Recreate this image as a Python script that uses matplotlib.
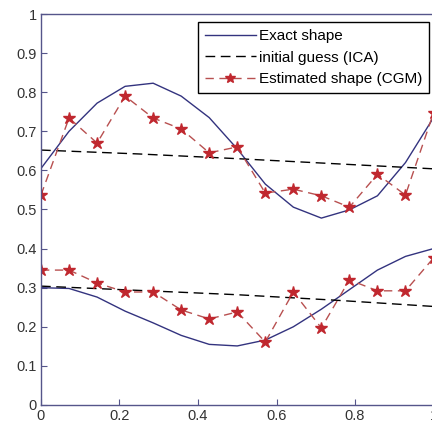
import matplotlib.pyplot as plt
import numpy as np

# sample positions (15 nodes on [0, 1])
x_nodes = np.arange(15) / 14

# exact shape, upper and lower boundaries
exact_upper = [0.605, 0.700, 0.772, 0.815, 0.823, 0.790, 0.735, 0.655,
               0.565, 0.506, 0.478, 0.499, 0.535, 0.620, 0.735]
exact_lower = [0.300, 0.298, 0.276, 0.240, 0.210, 0.178, 0.155, 0.151,
               0.166, 0.200, 0.245, 0.295, 0.345, 0.380, 0.400]

# initial guess (ICA)
guess_x = [0.0, 0.25, 0.5, 0.75, 1.0]
guess_upper = [0.652, 0.642, 0.630, 0.617, 0.604]
guess_lower = [0.304, 0.293, 0.282, 0.268, 0.252]

# estimated shape (CGM)
est_upper = [0.537, 0.734, 0.670, 0.790, 0.734, 0.706, 0.645, 0.660,
             0.542, 0.552, 0.535, 0.506, 0.590, 0.537, 0.747]
est_lower = [0.345, 0.345, 0.312, 0.289, 0.289, 0.243, 0.220, 0.238,
             0.161, 0.289, 0.197, 0.320, 0.292, 0.292, 0.376]

plt.rcParams['font.family'] = ['Liberation Sans', 'DejaVu Sans']

fig = plt.figure(figsize=(4.32, 4.23), dpi=100)
ax = fig.add_axes([0.0949, 0.0426, 0.9086, 0.9243])

blue = '#33337f'
red = '#c0282f'
red_line = '#b85050'

ax.plot(x_nodes, exact_upper, color=blue, lw=1.0, label='Exact shape')
ax.plot(guess_x, guess_upper, color='black', lw=1.0, dashes=(7, 4),
        label='initial guess (ICA)')
ax.plot(x_nodes, est_upper, color=red_line, lw=1.0, dashes=(6, 4),
        marker='*', markersize=9, markerfacecolor=red, markeredgecolor=red,
        label='Estimated shape (CGM)')

ax.plot(x_nodes, exact_lower, color=blue, lw=1.0)
ax.plot(guess_x, guess_lower, color='black', lw=1.0, dashes=(7, 4))
ax.plot(x_nodes, est_lower, color=red_line, lw=1.0, dashes=(6, 4),
        marker='*', markersize=9, markerfacecolor=red, markeredgecolor=red)

ax.set_xlim(0, 1)
ax.set_ylim(0, 1)
ax.set_xticks([0, 0.2, 0.4, 0.6, 0.8, 1])
ax.set_xticklabels(['0', '0.2', '0.4', '0.6', '0.8', '1'])
ax.set_yticks(np.arange(11) / 10)
ax.set_yticklabels(['0', '0.1', '0.2', '0.3', '0.4', '0.5', '0.6', '0.7',
                    '0.8', '0.9', '1'])
ax.tick_params(direction='in', length=4, color='#55558a', labelsize=10.5,
               labelcolor='#333333', pad=3)
for s in ax.spines.values():
    s.set_color('#55558a')
    s.set_linewidth(1.0)

leg = ax.legend(loc='upper right', bbox_to_anchor=(429 / 432, 1 - 22 / 423),
                bbox_transform=fig.transFigure, borderaxespad=0,
                fontsize=11, handlelength=3.4, handletextpad=0.15,
                labelspacing=0.5, borderpad=0.45, fancybox=False,
                framealpha=1, edgecolor='black', markerscale=0.8)
leg.get_frame().set_linewidth(1.0)

fig.savefig('out.png', dpi=100)
